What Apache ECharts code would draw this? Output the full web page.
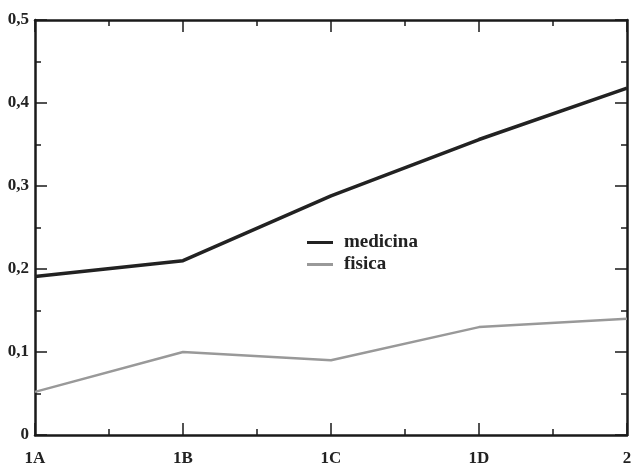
<!DOCTYPE html>
<html>
<head>
<meta charset="utf-8">
<script src="https://cdn.jsdelivr.net/npm/echarts@6/dist/echarts.min.js"></script>
<style>
  html, body { margin: 0; padding: 0; background: #fff; }
  #chart { width: 637px; height: 467px; }
</style>
</head>
<body>
<div id="chart"></div>
<script>
// Groups along the x axis
const categories = ['1A', '1B', '1C', '1D', '2'];
// Series values per group
const medicina = [0.191, 0.210, 0.288, 0.356, 0.418];
const fisica = [0.052, 0.100, 0.090, 0.130, 0.140];
// Y tick labels (decimal comma)
const yTickLabels = ['0', '0,1', '0,2', '0,3', '0,4', '0,5'];

const FONT = 'Liberation Serif';
const AXIS_COLOR = '#1a1a1a';

function xAxisDef(pos, showLabels) {
  return {
    type: 'value', position: pos, min: 0, max: categories.length - 1, interval: 1,
    axisLine: { show: true, onZero: false, lineStyle: { color: AXIS_COLOR, width: 2.5 } },
    axisTick: { show: true, inside: true, length: 12, lineStyle: { color: AXIS_COLOR, width: 1.5 } },
    minorTick: { show: true, splitNumber: 2, length: 6, lineStyle: { color: AXIS_COLOR, width: 1.5 } },
    splitLine: { show: false },
    axisLabel: {
      show: showLabels, margin: 15, color: '#222', fontFamily: FONT, fontWeight: 'bold', fontSize: 17,
      formatter: v => categories[v] ?? ''
    }
  };
}
function yAxisDef(pos, showLabels) {
  return {
    type: 'value', position: pos, min: 0, max: 0.5, interval: 0.1,
    axisLine: { show: true, onZero: false, lineStyle: { color: AXIS_COLOR, width: 2.5 } },
    axisTick: { show: true, inside: true, length: 12, lineStyle: { color: AXIS_COLOR, width: 1.5 } },
    minorTick: { show: true, splitNumber: 2, length: 6, lineStyle: { color: AXIS_COLOR, width: 1.5 } },
    splitLine: { show: false },
    axisLabel: {
      show: showLabels, margin: 6, color: '#222', fontFamily: FONT, fontWeight: 'bold', fontSize: 17,
      formatter: v => yTickLabels[Math.round(v * 10)] ?? ''
    }
  };
}

const chart = echarts.init(document.getElementById('chart'), null, { renderer: 'canvas' });
chart.setOption({
  animation: false,
  backgroundColor: '#fff',
  grid: { left: 35, right: 10, top: 20, bottom: 31, containLabel: false },
  xAxis: [xAxisDef('bottom', true), xAxisDef('top', false)],
  yAxis: [yAxisDef('left', true), yAxisDef('right', false)],
  legend: {
    left: 307, top: 233, orient: 'vertical', itemGap: 3, padding: 0,
    itemWidth: 26, itemHeight: 3, icon: 'rect',
    textStyle: { fontFamily: FONT, fontWeight: 'bold', fontSize: 19, color: '#222', padding: [0, 0, 0, 6] },
    data: ['medicina', 'fisica']
  },
  series: [
    {
      name: 'medicina', type: 'line', xAxisIndex: 0, yAxisIndex: 0,
      data: medicina.map((v, i) => [i, v]), showSymbol: false,
      lineStyle: { color: '#222', width: 3.5 }, itemStyle: { color: '#222' }
    },
    {
      name: 'fisica', type: 'line', xAxisIndex: 0, yAxisIndex: 0,
      data: fisica.map((v, i) => [i, v]), showSymbol: false,
      lineStyle: { color: '#999', width: 2.5 }, itemStyle: { color: '#999' }
    }
  ]
});
</script>
</body>
</html>
